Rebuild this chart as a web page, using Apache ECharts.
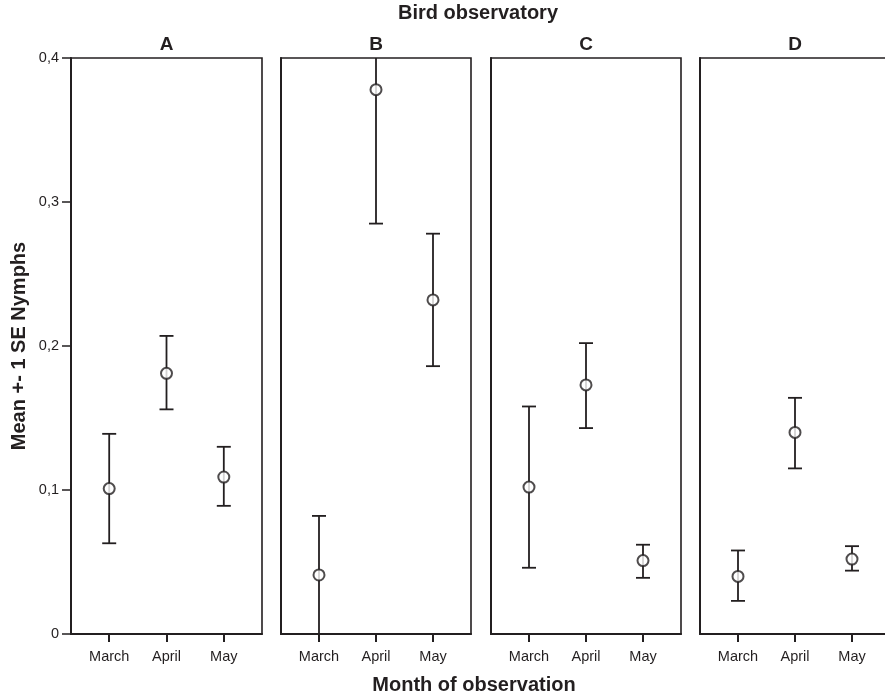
<!DOCTYPE html>
<html>
<head>
<meta charset="utf-8">
<script src="https://cdn.jsdelivr.net/npm/echarts@6/dist/echarts.min.js"></script>
<style>
html,body{margin:0;padding:0;background:#fff;}
#chart{width:885px;height:697px;}
</style>
</head>
<body>
<div id="chart"></div>
<script>
// ---- data ----
var months = ['March', 'April', 'May'];
var panels = ['A', 'B', 'C', 'D'];
var yTicks = [0, 0.1, 0.2, 0.3, 0.4];

var meanA = [0.101, 0.181, 0.109];
var lowA  = [0.063, 0.156, 0.089];
var highA = [0.139, 0.207, 0.130];

var meanB = [0.041, 0.378, 0.232];
var lowB  = [0.000, 0.285, 0.186];
var highB = [0.082, 0.471, 0.278];

var meanC = [0.102, 0.173, 0.051];
var lowC  = [0.046, 0.143, 0.039];
var highC = [0.158, 0.202, 0.062];

var meanD = [0.040, 0.140, 0.052];
var lowD  = [0.023, 0.115, 0.044];
var highD = [0.058, 0.164, 0.061];

var means = [meanA, meanB, meanC, meanD];
var lows = [lowA, lowB, lowC, lowD];
var highs = [highA, highB, highC, highD];

// ---- layout ----
var INK = '#231f20';
var FONT = 'Liberation Sans, Arial, Helvetica, sans-serif';
var gridLeft = [71, 281, 491, 700];
var gridWidth = [191, 190, 190, 190];
var gridTop = 58, gridHeight = 576;

var grids = [], xAxes = [], yAxes = [], series = [], graphics = [];

panels.forEach(function (p, i) {
  grids.push({
    left: gridLeft[i], top: gridTop, width: gridWidth[i], height: gridHeight,
    containLabel: false, outerBoundsMode: 'none',
    show: true, borderColor: INK, borderWidth: 1.6, backgroundColor: 'transparent'
  });
  xAxes.push({
    type: 'value', gridIndex: i, min: -2 / 3, max: 8 / 3,
    splitLine: { show: false },
    axisLine: { show: true, onZero: false, lineStyle: { color: INK, width: 2 } },
    axisTick: { show: true, customValues: [0, 1, 2], length: 8, lineStyle: { color: INK, width: 2 } },
    axisLabel: {
      show: true, customValues: [0, 1, 2], margin: 15,
      color: INK, fontFamily: FONT, fontSize: 14.5,
      formatter: function (v) { return months[Math.round(v)]; }
    }
  });
  yAxes.push({
    type: 'value', gridIndex: i, min: 0, max: 0.4, interval: 0.1,
    splitLine: { show: false },
    axisLine: { show: true, onZero: false, lineStyle: { color: INK, width: 2 } },
    axisTick: { show: i === 0, length: 9, lineStyle: { color: INK, width: 1.5 } },
    axisLabel: {
      show: i === 0, margin: 12, color: INK, fontFamily: FONT, fontSize: 14.5,
      formatter: function (v) { return v === 0 ? '0' : (Math.round(v * 10) / 10).toString().replace('.', ','); }
    }
  });

  var errData = months.map(function (m, k) { return [k, lows[i][k], highs[i][k]]; });
  series.push({
    type: 'custom', xAxisIndex: i, yAxisIndex: i, clip: true,
    data: errData,
    renderItem: function (params, api) {
      var x = api.value(0);
      var lo = api.coord([x, api.value(1)]);
      var hi = api.coord([x, api.value(2)]);
      var w = 7;
      var st = { stroke: INK, lineWidth: 1.8 };
      return {
        type: 'group',
        children: [
          { type: 'line', shape: { x1: lo[0], y1: lo[1], x2: hi[0], y2: hi[1] }, style: st },
          { type: 'line', shape: { x1: lo[0] - w, y1: lo[1], x2: lo[0] + w, y2: lo[1] }, style: st },
          { type: 'line', shape: { x1: hi[0] - w, y1: hi[1], x2: hi[0] + w, y2: hi[1] }, style: st }
        ]
      };
    },
    z: 2
  });
  series.push({
    type: 'scatter', xAxisIndex: i, yAxisIndex: i,
    data: months.map(function (m, k) { return [k, means[i][k]]; }),
    symbol: 'circle', symbolSize: 11,
    itemStyle: { color: '#fff', borderColor: INK, borderWidth: 2 },
    z: 3
  });

  graphics.push({
    type: 'text', x: gridLeft[i] + gridWidth[i] / 2, y: 45,
    style: { text: p, font: 'bold 19px ' + FONT, fill: INK, align: 'center', verticalAlign: 'middle' }
  });
});

graphics.push({
  type: 'text', x: 478, y: 13,
  style: { text: 'Bird observatory', font: 'bold 20px ' + FONT, fill: INK, align: 'center', verticalAlign: 'middle' }
});
graphics.push({
  type: 'text', x: 474, y: 685,
  style: { text: 'Month of observation', font: 'bold 20px ' + FONT, fill: INK, align: 'center', verticalAlign: 'middle' }
});
graphics.push({
  type: 'text', x: 19, y: 346, rotation: Math.PI / 2,
  style: { text: 'Mean +- 1 SE Nymphs', font: 'bold 20px ' + FONT, fill: INK, align: 'center', verticalAlign: 'middle' }
});

var chart = echarts.init(document.getElementById('chart'), null, { renderer: 'canvas' });
chart.setOption({
  animation: false,
  backgroundColor: '#fff',
  grid: grids,
  xAxis: xAxes,
  yAxis: yAxes,
  series: series,
  graphic: graphics
});
</script>
</body>
</html>
